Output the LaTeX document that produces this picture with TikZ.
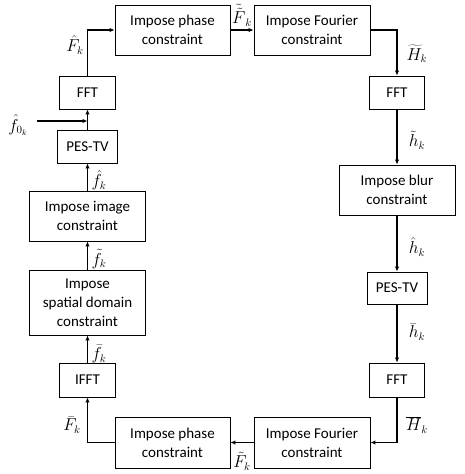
\documentclass[tikz,border=0pt]{standalone}
\usepackage{fontspec}
\setmainfont{Carlito}
\usetikzlibrary{arrows.meta}
\tikzset{
  blk/.style={draw, line width=0.9pt, align=center, inner sep=0pt, font=\fontsize{15}{19}\selectfont},
  conn/.style={line width=1.1pt, -{Latex[length=5pt,width=4.5pt]}},
  lbl/.style={inner sep=0pt, font=\fontsize{16}{18}\selectfont}
}
\begin{document}
\begin{tikzpicture}[x=1pt,y=-1pt]
\useasboundingbox (0,0) rectangle (464,474);
% top row
\node[blk, minimum width=115pt, minimum height=50pt] (phT) at (172.5,30) {Impose phase\\constraint};
\node[blk, minimum width=116pt, minimum height=50pt] (fouT) at (312,30) {Impose Fourier\\constraint};
% right column
\node[blk, minimum width=55pt, minimum height=33pt] (fftR1) at (397,92.5) {FFT};
\node[blk, minimum width=116pt, minimum height=50pt] (blur) at (397,190) {Impose blur\\constraint};
\node[blk, minimum width=60pt, minimum height=32pt] (pesR) at (397,288) {PES-TV};
\node[blk, minimum width=55pt, minimum height=34pt] (fftR2) at (397,380) {FFT};
% bottom row
\node[blk, minimum width=116pt, minimum height=51pt] (fouB) at (312,442.5) {Impose Fourier\\constraint};
\node[blk, minimum width=115pt, minimum height=51pt] (phB) at (172.5,442.5) {Impose phase\\constraint};
% left column
\node[blk, minimum width=56pt, minimum height=34pt] (ifft) at (87.5,380) {IFFT};
\node[blk, minimum width=116pt, minimum height=65pt] (spat) at (87.5,302.5) {Impose\\spatial domain\\constraint};
\node[blk, minimum width=116pt, minimum height=50pt] (img) at (87.5,216) {Impose image\\constraint};
\node[blk, minimum width=60pt, minimum height=33pt] (pesL) at (87.5,146.5) {PES-TV};
\node[blk, minimum width=56pt, minimum height=33pt] (fftL) at (87.5,92.5) {FFT};
\coordinate (f0) at (37,121);
% connectors
\draw[conn] (fftL.north) |- (phT.west);
\draw[conn] (phT) -- (fouT);
\draw[conn] (fouT.east) -| (fftR1.north);
\draw[conn] (fftR1) -- (blur);
\draw[conn] (blur) -- (pesR);
\draw[conn] (pesR) -- (fftR2);
\draw[conn] (fftR2.south) |- (fouB.east);
\draw[conn] (fouB) -- (phB);
\draw[conn] (phB.west) -| (ifft.south);
\draw[conn] (ifft) -- (spat);
\draw[conn] (spat) -- (img);
\draw[conn] (img) -- (pesL);
\draw[conn] (pesL) -- (fftL);
\draw[conn] (f0) -- (f0 -| pesL.north);
% labels
\node[lbl] (lFh) at (75,45) {$\hat{F}_k$};
\node[lbl] (lFtt) at (242,15) {$\tilde{\tilde{F}}_k$};
\node[lbl] (lHt) at (417,54) {$\widetilde{H}_k$};
\node[lbl] (lht) at (417,140) {$\tilde{h}_k$};
\node[lbl] (lhh) at (417,247) {$\hat{h}_k$};
\node[lbl] (lhb) at (417,332) {$\bar{h}_k$};
\node[lbl] (lHb) at (417,425) {$\overline{H}_k$};
\node[lbl] (lFt) at (242,461) {$\tilde{F}_k$};
\node[lbl] (lFb) at (72,425) {$\bar{F}_k$};
\node[lbl] (lfb) at (99,354) {$\bar{f}_k$};
\node[lbl] (lft) at (99,259) {$\tilde{f}_k$};
\node[lbl] (lfh) at (99,180) {$\hat{f}_k$};
\node[lbl] (lf0) at (18,125) {$\hat{f}_{0_k}$};
\end{tikzpicture}
\end{document}
